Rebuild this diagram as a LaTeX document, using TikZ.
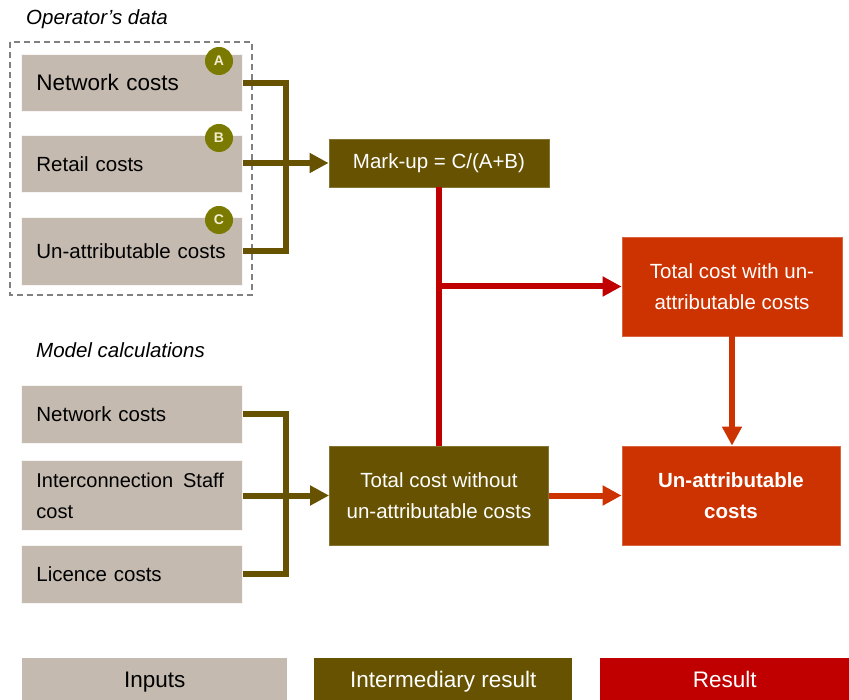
\documentclass[tikz,border=0pt]{standalone}
\usepackage{fontspec}
\setmainfont{Liberation Sans}
\usetikzlibrary{arrows.meta}
\definecolor{inputc}{HTML}{C4BAB0}
\definecolor{olivec}{HTML}{665200}
\definecolor{redc}{HTML}{C00000}
\definecolor{orangec}{HTML}{CC3300}
\definecolor{badgec}{HTML}{7A7A00}
\definecolor{badgetext}{HTML}{F2ECCF}
\tikzset{
  base/.style={font=\fontsize{20.5}{31}\selectfont},
  inbox/.style={base, fill=inputc, draw=white!85!inputc, line width=0.8pt, anchor=north west,
     inner xsep=15pt, inner ysep=0pt, text width=191pt, align=left, minimum width=221pt},
  midbox/.style={base, fill=olivec, draw=olivec!80!white, line width=0.8pt, text=white, align=center, inner sep=0pt},
  resbox/.style={base, fill=orangec, draw=orangec!75!white, line width=0.8pt, text=white, align=center, inner sep=0pt},
  badge/.style={circle, fill=badgec, minimum size=28pt, inner sep=0pt, text=badgetext,
     font=\fontsize{14}{14}\selectfont\bfseries},
  legbox/.style={font=\fontsize{22.5}{27}\selectfont, inner sep=0pt, anchor=north west, minimum height=46pt,
     text height=16pt, text depth=4pt},
  oliveline/.style={draw=olivec, line width=6pt},
  redline/.style={draw=redc, line width=6pt},
  orangeline/.style={draw=orangec, line width=6pt},
  tip/.style={-{Triangle[length=19pt,width=19pt]}},
  heading/.style={font=\fontsize{20.5}{24}\selectfont\itshape, anchor=west, inner sep=0pt}
}
\begin{document}
\begin{tikzpicture}[x=1pt,y=-1pt]
\useasboundingbox (0,0) rectangle (849,700);

% headings
\node[heading] (h1) at (26,19) {Operator’s data};
\node[heading] (h2) at (36,350) {Model calculations};

% dashed frame
\draw[gray, line width=1.5pt, dash pattern=on 6pt off 4pt] (10,42) rectangle (252,295);

% operator data boxes
\node[inbox, minimum height=57pt, font=\fontsize{22.5}{27}\selectfont] (opA) at (21,54) {Network costs};
\node[inbox, minimum height=57pt] (opB) at (21,135) {Retail costs};
\node[inbox, minimum height=68pt] (opC) at (21,217) {Un-attributable costs};

\node[badge] (cA) at (219,61) {A};
\node[badge] (cB) at (219,138) {B};
\node[badge] (cC) at (219,220) {C};

% model boxes
\node[inbox, minimum height=58pt] (mA) at (21,385) {Network costs};
\node[inbox, minimum height=70pt, font=\fontsize{20}{31}\selectfont] (mB) at (21,460) {\mbox{Interconnection\hspace{0.5em}Staff}\\cost};
\node[inbox, minimum height=58pt] (mC) at (21,545) {Licence costs};

% intermediate
\node[midbox, minimum width=220pt, minimum height=48pt] (mk) at (439,163) {Mark-up = C/(A+B)};
\node[midbox, minimum width=219pt, minimum height=99pt] (tw) at (439,495.5) {Total cost without\\un-attributable costs};

% results
\node[resbox, minimum width=220pt, minimum height=99pt] (twu) at (732,286.5) {Total cost with un-\\attributable costs};
\node[resbox, minimum width=218pt, minimum height=99pt, font=\fontsize{20.5}{31}\selectfont\bfseries] (ua) at (731,495.5) {Un-attributable\\costs};

% olive connectors (top)
\coordinate (b1t) at (286,83);
\coordinate (b1b) at (286,251);
\draw[oliveline] (opA.east |- b1t) -- (b1t) -- (b1b) -- (opC.east |- b1b);
\draw[oliveline, tip] (opB.east |- mk.west) -- (mk.west);

% olive connectors (bottom)
\coordinate (b2t) at (286,414);
\coordinate (b2b) at (286,574);
\draw[oliveline] (mA.east |- b2t) -- (b2t) -- (b2b) -- (mC.east |- b2b);
\draw[oliveline, tip] (mB.east |- tw.west) -- (tw.west);

% red connectors
\draw[redline] (mk.south) -- (tw.north);
\coordinate (br) at (439,286.5);
\draw[redline, tip] (br) -- (twu.west);

% orange connectors
\draw[orangeline, tip] (twu.south) -- (ua.north -| twu.south);
\draw[orangeline, tip] (tw.east) -- (ua.west);

% legend
\node[legbox, fill=inputc, minimum width=265pt] (l1) at (22,658) {Inputs};
\node[legbox, fill=olivec, text=white, minimum width=258pt] (l2) at (314,658) {Intermediary result};
\node[legbox, fill=redc, text=white, minimum width=249pt] (l3) at (600,658) {Result};
\end{tikzpicture}
\end{document}
